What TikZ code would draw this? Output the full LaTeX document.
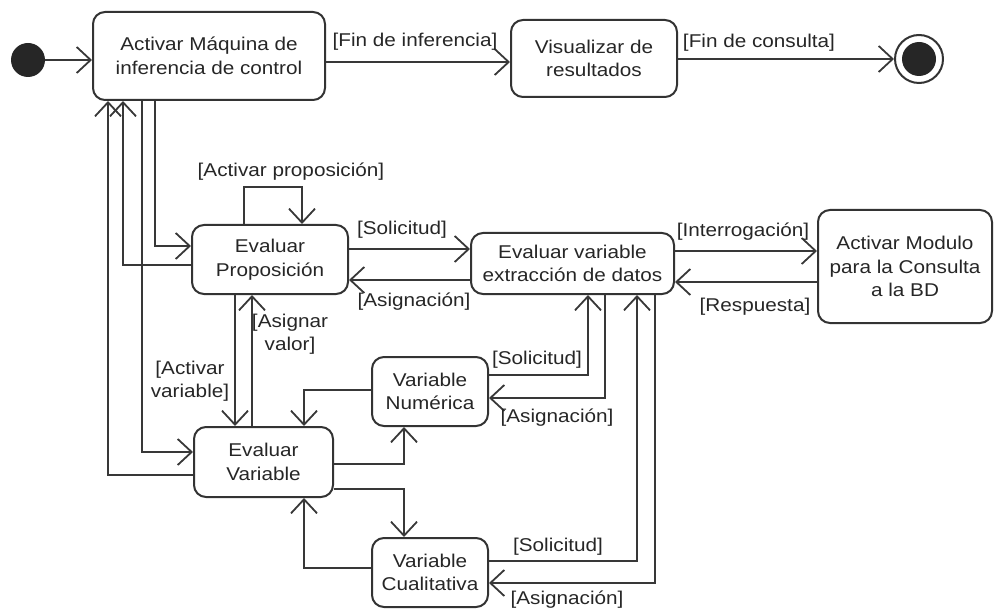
\documentclass[tikz,border=0pt]{standalone}
\usepackage{fontspec}
\setmainfont{Liberation Sans}[FakeStretch=1.12]
\usetikzlibrary{arrows.meta,calc}
\newcommand\dgfont{\fontsize{18.5}{23.5}\selectfont}
\begin{document}
\begin{tikzpicture}[x=1pt,y=-1pt,
  box/.style={draw=black!80, line width=2pt, rounded corners=12pt, align=center,
    inner sep=0pt, text=black!85, font=\dgfont},
  lbl/.style={inner sep=0pt, align=center, text=black!85, font=\dgfont},
  flow/.style={draw=black!78, line width=1.8pt,
    -{Straight Barb[length=14pt,width=26pt]}}]
\useasboundingbox (0,0) rectangle (995,612);

% states
\node[circle, fill=black!85, minimum size=34pt, inner sep=0pt] (init) at (28,60) {};
\node[box, minimum width=232pt, minimum height=88pt] (act) at (209,56)
  {Activar Máquina de\\inferencia de control};
\node[box, minimum width=166pt, minimum height=77pt] (vis) at (594,58.5)
  {Visualizar de\\resultados};
\node[circle, draw=black!80, line width=2pt, minimum size=48pt, inner sep=0pt] (fin) at (919,59) {};
\fill[black!85] (fin) circle (17);
\node[box, minimum width=156pt, minimum height=69pt] (prop) at (270,259.5)
  {Evaluar\\Proposición};
\node[box, minimum width=203pt, minimum height=61pt] (ext) at (572.5,263.5)
  {Evaluar variable\\extracción de datos};
\node[box, minimum width=174pt, minimum height=113pt] (mod) at (905,266.5)
  {Activar Modulo\\para la Consulta\\a la BD};
\node[box, minimum width=139pt, minimum height=70pt] (ev) at (263.5,462)
  {Evaluar\\Variable};
\node[box, minimum width=116pt, minimum height=69pt] (num) at (430,391.5)
  {Variable\\Numérica};
\node[box, minimum width=116pt, minimum height=69pt] (cual) at (430,572.5)
  {Variable\\Cualitativa};

% top row
\draw[flow] (init) -- (init -| act.west);
\draw[flow] (act.east |- 0,62) -- (vis.west |- 0,62);
\draw[flow] (vis.east |- fin) -- (fin.west);

% links on the left of the control machine
\draw[flow] (ev.west |- 0,475) -| (act.south -| 108,0);
\draw[flow] (prop.west |- 0,265) -| (act.south -| 123,0);
\draw[flow] (act.south -| 142,0) |- (ev.west |- 0,452);
\draw[flow] (act.south -| 155,0) |- (prop.west |- 0,246);

% proposition
\draw[flow] (prop.north -| 244,0) -- ++(0,-37) -| (prop.north -| 302,0);
\draw[flow] (prop.east |- 0,249) -- (ext.west |- 0,249);
\draw[flow] (ext.west |- 0,280) -- (prop.east |- 0,280);
\draw[flow] (ext.east |- 0,251) -- (mod.west |- 0,251);
\draw[flow] (mod.west |- 0,282) -- (ext.east |- 0,282);
\draw[flow] (prop.south -| 235,0) -- (ev.north -| 235,0);
\draw[flow] (ev.north -| 252,0) -- (prop.south -| 252,0);

% variables
\draw[flow] (num.west |- 0,390) -| (ev.north -| 304,0);
\draw[flow] (ev.east |- 0,464) -| (num.south -| 404,0);
\draw[flow] (ev.east |- 0,489) -| (cual.north -| 404,0);
\draw[flow] (cual.west |- 0,568) -| (ev.south -| 304,0);
\draw[flow] (num.east |- 0,375) -| (ext.south -| 588,0);
\draw[flow] (ext.south -| 605,0) |- (num.east |- 0,398);
\draw[flow] (cual.east |- 0,561) -| (ext.south -| 637,0);
\draw[flow] (ext.south -| 655,0) |- (cual.east |- 0,583);

% guards
\node[lbl] (l1) at (415,42) {[Fin de inferencia]};
\node[lbl] (l2) at (759,43) {[Fin de consulta]};
\node[lbl] (l3) at (291,172) {[Activar proposición]};
\node[lbl] (l4) at (402,230) {[Solicitud]};
\node[lbl] (l5) at (414,302) {[Asignación]};
\node[lbl] (l6) at (743,232) {[Interrogación]};
\node[lbl] (l7) at (755,307) {[Respuesta]};
\node[lbl] (l8) at (290,334) {[Asignar\\valor]};
\node[lbl] (l9) at (190,381) {[Activar\\variable]};
\node[lbl] (l10) at (537,360) {[Solicitud]};
\node[lbl] (l11) at (557,418) {[Asignación]};
\node[lbl] (l12) at (558,547) {[Solicitud]};
\node[lbl] (l13) at (567,600) {[Asignación]};
\end{tikzpicture}
\end{document}
